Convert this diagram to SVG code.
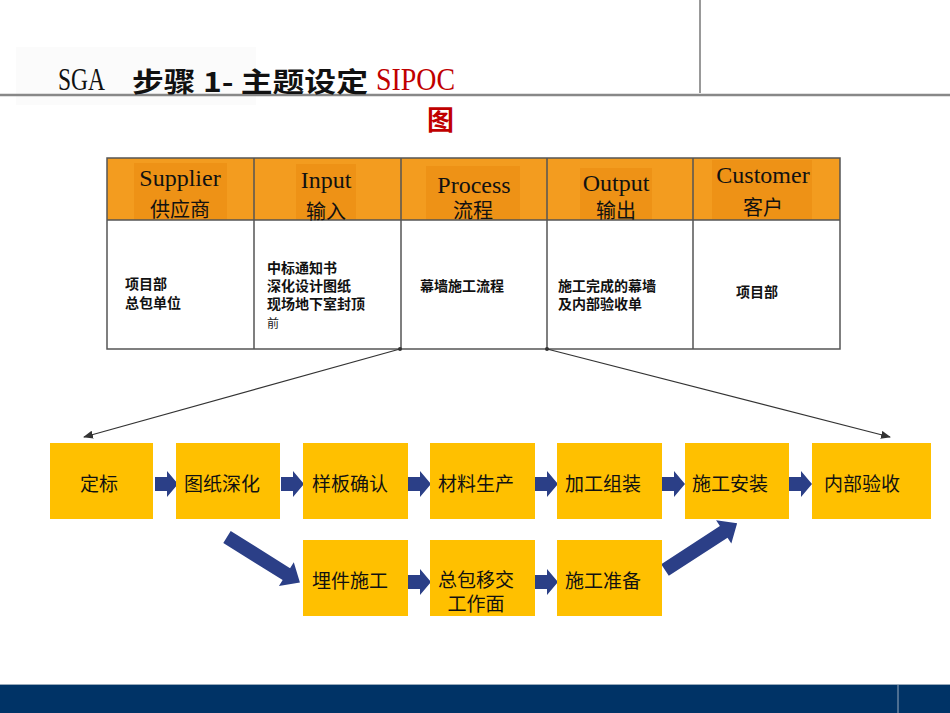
<svg xmlns="http://www.w3.org/2000/svg" width="950" height="713" viewBox="0 0 950 713">
<style>
.hd{fill:#F39C1F}
.hl{fill:#EE9216}
.en{font-family:"Liberation Serif",serif;font-size:24px;fill:#111;text-anchor:middle}
.cn{font-family:"Noto Sans CJK SC",sans-serif;font-size:20px;fill:#111;text-anchor:middle}
.bd{font-family:"Noto Sans CJK SC",sans-serif;font-size:14px;font-weight:bold;fill:#111}
.box{fill:#FFC000}
.bt{font-family:"Noto Sans CJK SC",sans-serif;font-size:19px;fill:#111}
.ba{fill:#2B3F87}
.ln{stroke:#333;stroke-width:1.2;fill:none}
</style>
<defs>
<marker id="ah" markerWidth="10" markerHeight="8" refX="9" refY="4" orient="auto" markerUnits="userSpaceOnUse"><path d="M0,0 L10,4 L0,8 z" fill="#333"/></marker>
<path id="blk" d="M0,-7 L12,-7 L12,-13 L23,0 L12,13 L12,7 L0,7 z"/>
</defs>
<rect width="950" height="713" fill="#fff"/>
<!-- header -->
<rect x="16" y="47" width="240" height="58" fill="#fbfbfb"/>
<line x1="700" y1="0" x2="700" y2="93" stroke="#777" stroke-width="1.5"/>
<line x1="0" y1="95" x2="950" y2="95" stroke="#888" stroke-width="2.5"/>
<g id="title">
<text x="58" y="90" font-family="Liberation Serif,serif" font-size="32" fill="#111" textLength="47" lengthAdjust="spacingAndGlyphs">SGA</text>
<text x="132" y="92" font-family="Noto Sans CJK SC,sans-serif" font-size="27" font-weight="bold" fill="#111" textLength="236" lengthAdjust="spacingAndGlyphs">步骤 1- 主题设定</text>
<text x="376" y="90" font-family="Liberation Serif,serif" font-size="32" fill="#C00000" textLength="79" lengthAdjust="spacingAndGlyphs">SIPOC</text>
<text x="427" y="130" font-family="Noto Sans CJK SC,sans-serif" font-size="27" font-weight="bold" fill="#C00000">图</text>
</g>
<!-- SIPOC table -->
<g id="table">
<rect x="107" y="158" width="733" height="62" class="hd"/>
<rect x="107" y="220" width="733" height="129" fill="#fff"/>
<rect x="134" y="163" width="93" height="57" class="hl"/>
<rect x="296" y="164" width="60" height="56" class="hl"/>
<rect x="426" y="166" width="94" height="54" class="hl"/>
<rect x="580" y="168" width="72" height="52" class="hl"/>
<rect x="712" y="160" width="100" height="60" class="hl"/>
<rect x="107" y="158" width="733" height="191" fill="none" stroke="#555" stroke-width="1.5"/>
<line x1="107" y1="220" x2="840" y2="220" stroke="#555" stroke-width="1.5"/>
<line x1="254" y1="158" x2="254" y2="349" stroke="#555" stroke-width="1.5"/>
<line x1="401" y1="158" x2="401" y2="349" stroke="#555" stroke-width="1.5"/>
<line x1="547" y1="158" x2="547" y2="349" stroke="#555" stroke-width="1.5"/>
<line x1="693" y1="158" x2="693" y2="349" stroke="#555" stroke-width="1.5"/>
<text x="180" y="186" class="en">Supplier</text>
<text x="180" y="217" class="cn">供应商</text>
<text x="326" y="188" class="en">Input</text>
<text x="326" y="219" class="cn">输入</text>
<text x="474" y="193" class="en">Process</text>
<text x="473" y="218" class="cn">流程</text>
<text x="616" y="191" class="en" font-size="22">Output</text>
<text x="616" y="218" class="cn">输出</text>
<text x="763" y="183" class="en" font-size="22">Customer</text>
<text x="763" y="215" class="cn">客户</text>
<text x="125" y="289" class="bd">项目部</text>
<text x="125" y="308" class="bd">总包单位</text>
<text x="267" y="273" class="bd">中标通知书</text>
<text x="267" y="291" class="bd">深化设计图纸</text>
<text x="267" y="309" class="bd">现场地下室封顶</text>
<text x="267" y="328" font-family="Noto Sans CJK SC,sans-serif" font-size="12" fill="#222">前</text>
<text x="420" y="291" class="bd">幕墙施工流程</text>
<text x="558" y="291" class="bd">施工完成的幕墙</text>
<text x="558" y="309" class="bd">及内部验收单</text>
<text x="757" y="297" class="bd" text-anchor="middle">项目部</text>
</g>
<!-- connectors -->
<g id="connectors">
<circle cx="400" cy="349" r="2" fill="#333"/>
<circle cx="547" cy="349" r="2" fill="#333"/>
<line x1="400" y1="349" x2="84" y2="437" class="ln" marker-end="url(#ah)"/>
<line x1="547" y1="349" x2="890" y2="437" class="ln" marker-end="url(#ah)"/>
<use href="#blk" class="ba" transform="translate(155,484)"/>
<use href="#blk" class="ba" transform="translate(281,484)"/>
<use href="#blk" class="ba" transform="translate(408,484)"/>
<use href="#blk" class="ba" transform="translate(535,484)"/>
<use href="#blk" class="ba" transform="translate(662,484)"/>
<use href="#blk" class="ba" transform="translate(789,484)"/>
<use href="#blk" class="ba" transform="translate(408,582)"/>
<use href="#blk" class="ba" transform="translate(535,582)"/>
<path class="ba" d="M0,-7 L70,-7 L70,-14 L86,0 L70,14 L70,7 L0,7 z" transform="translate(227,537) rotate(32)"/>
<path class="ba" d="M0,-7 L70,-7 L70,-14 L86,0 L70,14 L70,7 L0,7 z" transform="translate(665,570) rotate(-33)"/>
</g>
<!-- process boxes -->
<g id="n1"><rect x="50" y="443" width="103" height="76" class="box"/><text x="80" y="491" class="bt">定标</text></g>
<g id="n2"><rect x="176" y="443" width="104" height="76" class="box"/><text x="184" y="491" class="bt">图纸深化</text></g>
<g id="n3"><rect x="303" y="443" width="105" height="76" class="box"/><text x="312" y="491" class="bt">样板确认</text></g>
<g id="n4"><rect x="430" y="443" width="105" height="76" class="box"/><text x="438" y="491" class="bt">材料生产</text></g>
<g id="n5"><rect x="557" y="443" width="105" height="76" class="box"/><text x="565" y="491" class="bt">加工组装</text></g>
<g id="n6"><rect x="685" y="443" width="104" height="76" class="box"/><text x="692" y="491" class="bt">施工安装</text></g>
<g id="n7"><rect x="812" y="443" width="119" height="76" class="box"/><text x="824" y="491" class="bt">内部验收</text></g>
<g id="n8"><rect x="303" y="540" width="105" height="76" class="box"/><text x="312" y="588" class="bt">埋件施工</text></g>
<g id="n9"><rect x="430" y="540" width="105" height="76" class="box"/><text x="438" y="587" class="bt">总包移交</text><text x="476" y="611" class="bt" text-anchor="middle">工作面</text></g>
<g id="n10"><rect x="557" y="540" width="105" height="76" class="box"/><text x="565" y="588" class="bt">施工准备</text></g>
<!-- footer -->
<rect x="0" y="684" width="950" height="29" fill="#003366"/>
<line x1="0" y1="684.5" x2="950" y2="684.5" stroke="#9ab" stroke-width="1"/>
<line x1="898" y1="684" x2="898" y2="713" stroke="#9ab" stroke-width="1"/>
</svg>
